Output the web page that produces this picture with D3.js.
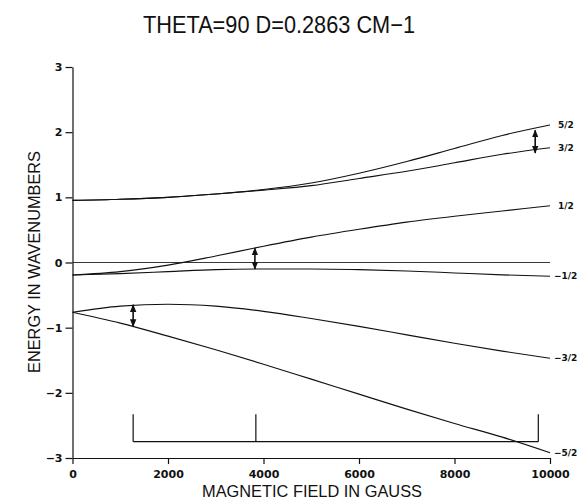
<!DOCTYPE html>
<html>
<head>
<meta charset="utf-8">
<script src="https://cdn.jsdelivr.net/npm/d3@7"></script>
<style>
  body { margin: 0; background: #fff; }
  svg { display: block; }
  .axis path, .axis line { stroke: #111; stroke-width: 1.2; }
  .axis text { font-family: "DejaVu Sans", sans-serif; font-weight: bold; font-size: 11px; fill: #111; }
</style>
</head>
<body>
<div id="plotDiv"></div>
<script>
// field values (gauss) at which levels were read
var fieldGauss = [0, 1000, 2000, 3000, 4000, 5000, 6000, 7000, 8000, 9000, 10000];

// energy levels, cm-1
var level52  = [0.954, 0.97, 1.00, 1.05, 1.12, 1.22, 1.37, 1.55, 1.75, 1.95, 2.11];
var level32  = [0.954, 0.97, 1.00, 1.05, 1.11, 1.18, 1.29, 1.40, 1.53, 1.66, 1.76];
var level12  = [-0.191, -0.14, -0.04, 0.10, 0.25, 0.39, 0.51, 0.62, 0.71, 0.79, 0.87];
var levelM12 = [-0.191, -0.17, -0.14, -0.11, -0.10, -0.10, -0.11, -0.13, -0.16, -0.19, -0.21];
var levelM32 = [-0.763, -0.67, -0.64, -0.67, -0.75, -0.86, -0.98, -1.11, -1.24, -1.36, -1.47];
var levelM52 = [-0.763, -0.93, -1.13, -1.34, -1.56, -1.79, -2.02, -2.25, -2.47, -2.68, -2.92];

var levelNames = ["5/2", "3/2", "1/2", "-1/2", "-3/2", "-5/2"];
var levels = [level52, level32, level12, levelM12, levelM32, levelM52];

// transitions (double arrows): field, from, to
var arrowField = [1270, 3820, 9690];
var arrowFrom  = [-0.65, 0.22, 2.03];
var arrowTo    = [-0.98, -0.10, 1.68];

// bracket under the curves
var bracketField = [1270, 3840, 9755];
var bracketTop = -2.33, bracketBottom = -2.75;

var xTicks = [0, 2000, 4000, 6000, 8000, 10000];
var yTicks = [-3, -2, -1, 0, 1, 2, 3];

var W = 583, H = 501;
var margin = {top: 67, right: 33, bottom: 43, left: 72.5};
var width = W - margin.left - margin.right,
    height = H - margin.top - margin.bottom;

var svg = d3.select("#plotDiv").append("svg")
    .attr("width", W).attr("height", H);

var g = svg.append("g")
    .attr("transform", "translate(" + margin.left + "," + margin.top + ")");

var x = d3.scaleLinear().domain([0, 10000]).range([0, width]);
var y = d3.scaleLinear().domain([-3, 3]).range([height, 0]);

// axes
g.append("g")
    .attr("class", "axis")
    .attr("transform", "translate(0," + height + ")")
    .call(d3.axisBottom(x).tickValues(xTicks).tickFormat(d3.format("d"))
        .tickSize(6).tickSizeOuter(0).tickPadding(4))
    .selectAll("text").attr("dy", "0.9em");

g.append("g")
    .attr("class", "axis")
    .call(d3.axisLeft(y).tickValues(yTicks).tickSize(7).tickSizeOuter(0).tickPadding(3)
        .tickFormat(function(d) { return d < 0 ? "\u2212" + (-d) : d; }));

// zero line
g.append("line")
    .attr("x1", x(0)).attr("x2", x(10000))
    .attr("y1", y(0)).attr("y2", y(0))
    .attr("stroke", "#222").attr("stroke-width", 0.9);

// level curves
var line = d3.line()
    .x(function(d, i) { return x(fieldGauss[i]); })
    .y(function(d) { return y(d); })
    .curve(d3.curveMonotoneX);

g.selectAll(".level")
    .data(levels)
    .enter().append("path")
    .attr("class", "level")
    .attr("d", line)
    .attr("fill", "none")
    .attr("stroke", "#111")
    .attr("stroke-width", 1.1);

// level labels at right
g.selectAll(".lab")
    .data(levels)
    .enter().append("text")
    .attr("class", "lab")
    .attr("x", function(d, i) { return x(10000) + (levelNames[i][0] == "-" ? 4 : 8); })
    .attr("y", function(d) { return y(d[d.length - 1]); })
    .attr("dy", "0.35em")
    .attr("font-family", "DejaVu Sans, sans-serif")
    .attr("font-weight", "bold")
    .attr("font-size", 9)
    .attr("fill", "#111")
    .text(function(d, i) { return levelNames[i].replace("-", "\u2212"); });

// arrowheads
var defs = svg.append("defs");
defs.append("marker")
    .attr("id", "head")
    .attr("viewBox", "0 0 10 10")
    .attr("refX", 9).attr("refY", 5)
    .attr("markerWidth", 5).attr("markerHeight", 5)
    .attr("orient", "auto-start-reverse")
    .append("path")
    .attr("d", "M0,1 L10,5 L0,9 Z")
    .attr("fill", "#111");

g.selectAll(".arrow")
    .data(arrowField)
    .enter().append("line")
    .attr("class", "arrow")
    .attr("x1", function(d) { return x(d); })
    .attr("x2", function(d) { return x(d); })
    .attr("y1", function(d, i) { return y(arrowFrom[i]); })
    .attr("y2", function(d, i) { return y(arrowTo[i]); })
    .attr("stroke", "#111")
    .attr("stroke-width", 1.6)
    .attr("marker-start", "url(#head)")
    .attr("marker-end", "url(#head)");

// bracket
g.append("line")
    .attr("x1", x(bracketField[0])).attr("x2", x(bracketField[bracketField.length - 1]))
    .attr("y1", y(bracketBottom)).attr("y2", y(bracketBottom))
    .attr("stroke", "#111").attr("stroke-width", 1.2);

g.selectAll(".btick")
    .data(bracketField)
    .enter().append("line")
    .attr("class", "btick")
    .attr("x1", function(d) { return x(d); })
    .attr("x2", function(d) { return x(d); })
    .attr("y1", y(bracketTop))
    .attr("y2", y(bracketBottom))
    .attr("stroke", "#111").attr("stroke-width", 1.2);

// titles
svg.append("text")
    .attr("x", 279).attr("y", 33)
    .attr("text-anchor", "middle")
    .attr("font-family", "Liberation Sans, sans-serif")
    .attr("font-size", 24)
    .attr("textLength", 272)
    .attr("lengthAdjust", "spacingAndGlyphs")
    .attr("fill", "#111")
    .text("THETA=90 D=0.2863 CM\u22121");

svg.append("text")
    .attr("x", 312).attr("y", 497)
    .attr("text-anchor", "middle")
    .attr("font-family", "Liberation Sans, sans-serif")
    .attr("font-size", 16)
    .attr("textLength", 220)
    .attr("lengthAdjust", "spacingAndGlyphs")
    .attr("fill", "#111")
    .text("MAGNETIC FIELD IN GAUSS");

svg.append("text")
    .attr("transform", "translate(40,262) rotate(-90)")
    .attr("text-anchor", "middle")
    .attr("font-family", "Liberation Sans, sans-serif")
    .attr("font-size", 16)
    .attr("textLength", 222)
    .attr("lengthAdjust", "spacingAndGlyphs")
    .attr("fill", "#111")
    .text("ENERGY IN WAVENUMBERS");
</script>
</body>
</html>
